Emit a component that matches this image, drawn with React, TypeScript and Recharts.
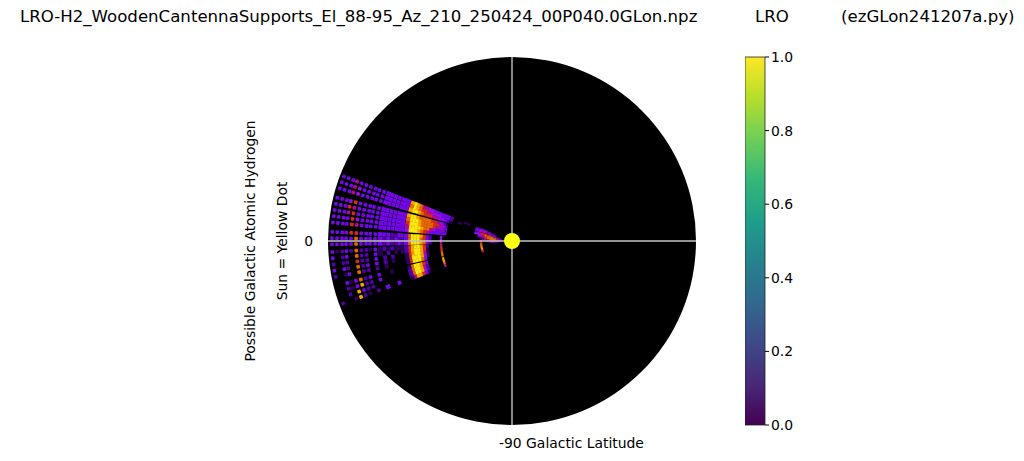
import React from 'react';
import { ScatterChart, Scatter, XAxis, YAxis, BarChart, Bar } from 'recharts';

const titleMain = 'LRO-H2_WoodenCantennaSupports_El_88-95_Az_210_250424_00P040.0GLon.npz';
const titleMid = 'LRO';
const titleRight = '(ezGLon241207a.py)';
const yTitleA = 'Possible Galactic Atomic Hydrogen';
const yTitleB = 'Sun = Yellow Dot';
const topLabel = '90';
const bottomLabel = '-90 Galactic Latitude';
const rim = 184;

// radial distance of each column (disc rim = 184)
const distances = [
  12, 15, 18, 21, 24, 27, 29, 31,
  33, 36, 41, 48, 55, 60, 64, 67,
  69, 71, 73, 76, 79, 82, 85, 88,
  91, 94, 97, 100, 103, 106, 110, 113,
  116, 120, 124, 128, 132, 137, 142, 146,
  151, 156, 161, 166, 170, 175, 180,
];
// angular position of each scan, degrees of galactic latitude
const latitudes = [21, 19, 17, 13.9, 11.9, 9.9, 7.9, 5.9, 2.9, 0.9, -1.1, -3.5, -5.5, -7.5, -9.5, -11.5, -14.3, -16.3, -18.3, -20.3];
// intensity level, one digit per distance column, one row per latitude
const scans = [
  '00012333 32010023 33333344 55789833 33333333 3335333',
  '00123444 43001023 33344455 66789733 33333333 3345333',
  '00234555 53000012 33445566 67899833 33333333 3345333',
  '01355666 53000001 23456677 77899833 33333333 3364333',
  '02466766 54000002 44566777 78999733 33333333 3356333',
  '13577765 40000003 35456777 78999633 33333333 3365333',
  '25677654 30000002 35334577 89999533 33333333 3463333',
  '36887632 10000003 33333356 78999433 33333333 3563333',
  '46886520 00000000 04000236 89997333 22333333 3663333',
  '36664205 00000000 04000236 79997322 32323333 3733333',
  '25542006 00000000 05000237 89997323 22323333 3733333',
  '14420006 00000000 05000026 89986211 12121312 2723213',
  '02200007 00000000 06000016 89986210 10201302 2703203',
  '01100007 00000000 06000015 89986100 02020302 2602202',
  '00000007 00000000 07000014 89996100 01020303 2702303',
  '00000008 00000000 07000003 79996100 00010202 2703102',
  '00000008 00000000 08000003 68997100 00100303 2731300',
  '00000007 00000000 08000002 58997200 00000302 2831200',
  '00000006 00000000 07000002 48997200 00000002 2380200',
  '00000005 00000000 05000001 36885100 03003020 1281002',
];
const levelColors = ['#000000', '#2c0058', '#5200a8', '#7208e6', '#9410e8', '#b40898', '#d42a20', '#e86800', '#f8a400', '#ffe810'];

const latTicks = [0];
const discPoint = [{ x: 0, y: 0 }];
const sunPoint = [{ x: 0, y: 0 }];
const horizontalLine = [{ x: -rim, y: 0 }, { x: rim, y: 0 }];
const verticalLine = [{ x: 0, y: -rim }, { x: 0, y: rim }];
const colorbarTicks = [0, 0.2, 0.4, 0.6, 0.8, 1];
const colorbarData = [{ name: 'LRO', value: 1 }];
const viridisStops = ['#440154', '#482878', '#3e4989', '#31688e', '#26828e', '#1f9e89', '#35b779', '#6ece58', '#b5de2b', '#fde725'];

const cells = scans.flatMap((row, i) => {
  const digits = row.replace(/ /g, '');
  const lat = latitudes[i];
  const rad = (lat * Math.PI) / 180;
  return distances.flatMap((d, j) => {
    const level = Number(digits[j]);
    if (!level) return [];
    const step = j + 1 < distances.length ? distances[j + 1] - d : 5;
    return [{ x: -d * Math.cos(rad), y: d * Math.sin(rad), d, lat, level, step }];
  });
});

const Cell = (p: any) => {
  const { cx, cy, payload } = p;
  const { d, lat, level, step } = payload;
  const outer = d >= 135;
  const middle = d >= 116 && !outer;
  const w = outer ? 3.6 : middle ? step * 0.92 : step + 0.3;
  const h = outer ? 3.6 : middle ? d * 0.033 : d * 0.0349 + 0.3;
  return (
    <rect className="heat-cell" x={cx - w / 2} y={cy - h / 2} width={w} height={h} rx={outer ? 0.8 : 0}
      fill={levelColors[level]} transform={`rotate(${lat} ${cx} ${cy})`} />
  );
};

const Disc = (p: any) => <circle cx={p.cx} cy={p.cy} r={rim} fill="#000" />;
const SunDot = (p: any) => <circle cx={p.cx} cy={p.cy} r={8} fill="#ffff14" />;
const NoDot = () => null;

const BottomTick = (p: any) => (
  <text x={p.x - 13} y={p.y + 15} fontSize={13.9} fontFamily="DejaVu Sans" fill="#000" textAnchor="start">{bottomLabel}</text>
);
const TopTick = (p: any) => (
  <text x={p.x} y={p.y - 5} fontSize={13.9} fontFamily="DejaVu Sans" fill="#000" textAnchor="middle">{topLabel}</text>
);

const font = { fontFamily: 'DejaVu Sans', fill: '#000' };

export default function App() {
  return (
    <div style={{ position: 'absolute', left: 0, top: 0, width: 1024, height: 461, background: '#fff' }}>
      <style>{`.recharts-scatter:has(.heat-cell){filter:blur(0.4px)}`}</style>
      <div style={{ position: 'absolute', left: 0, top: 0 }}>
        <ScatterChart width={1024} height={461} margin={{ left: 298, right: 328, top: 27, bottom: 0 }}>
          <XAxis type="number" dataKey="x" domain={[-rim, rim]} ticks={latTicks} tick={<BottomTick />} tickLine={false} axisLine={false} height={36} interval={0} />
          <XAxis xAxisId="top" orientation="top" type="number" dataKey="x" domain={[-rim, rim]} ticks={latTicks} tick={<TopTick />} tickLine={false} axisLine={false} height={30} interval={0} />
          <YAxis type="number" dataKey="y" domain={[-rim, rim]} ticks={latTicks} width={30} tickLine={false} axisLine={false} tickMargin={9}
            tick={{ fontSize: 13.9, fontFamily: 'DejaVu Sans', fill: '#000' }} />
          <Scatter data={discPoint} shape={<Disc />} isAnimationActive={false} />
          <Scatter data={cells} shape={<Cell />} isAnimationActive={false} />
          <Scatter data={horizontalLine} shape={<NoDot />} line={{ stroke: '#c4c4c4', strokeWidth: 1.4 }} isAnimationActive={false} />
          <Scatter data={verticalLine} shape={<NoDot />} line={{ stroke: '#c4c4c4', strokeWidth: 1.4 }} isAnimationActive={false} />
          <Scatter data={sunPoint} shape={<SunDot />} isAnimationActive={false} />
        </ScatterChart>
      </div>
      <div style={{ position: 'absolute', left: 745, top: 0 }}>
        <BarChart width={75} height={461} data={colorbarData} margin={{ left: 0, right: 0, top: 57, bottom: 36 }} barCategoryGap={0}>
          <defs>
            <linearGradient id="viridis" x1="0" y1="1" x2="0" y2="0">
              {viridisStops.map((c, i) => <stop key={c} offset={i / (viridisStops.length - 1)} stopColor={c} />)}
            </linearGradient>
          </defs>
          <XAxis dataKey="name" hide />
          <YAxis orientation="right" type="number" domain={[0, 1]} ticks={colorbarTicks} width={55} axisLine={false} tickSize={4}
            tickLine={{ stroke: '#000', strokeWidth: 1 }} tickFormatter={(v: number) => v.toFixed(1)} interval={0}
            tick={{ fontSize: 13.9, fontFamily: 'DejaVu Sans', fill: '#000' }} />
          <Bar dataKey="value" fill="url(#viridis)" stroke="#222" strokeWidth={0.8} isAnimationActive={false} />
        </BarChart>
      </div>
      <svg width={1024} height={461} style={{ position: 'absolute', left: 0, top: 0, pointerEvents: 'none' }}>
        <text x={20} y={22} fontSize={16.6} {...font}>{titleMain}</text>
        <text x={755} y={22} fontSize={16.6} {...font}>{titleMid}</text>
        <text x={841} y={22} fontSize={16.6} {...font}>{titleRight}</text>
        <text transform="translate(255 241) rotate(-90)" textAnchor="middle" fontSize={13.9} {...font}>{yTitleA}</text>
        <text transform="translate(287 241) rotate(-90)" textAnchor="middle" fontSize={13.9} {...font}>{yTitleB}</text>
      </svg>
    </div>
  );
}
